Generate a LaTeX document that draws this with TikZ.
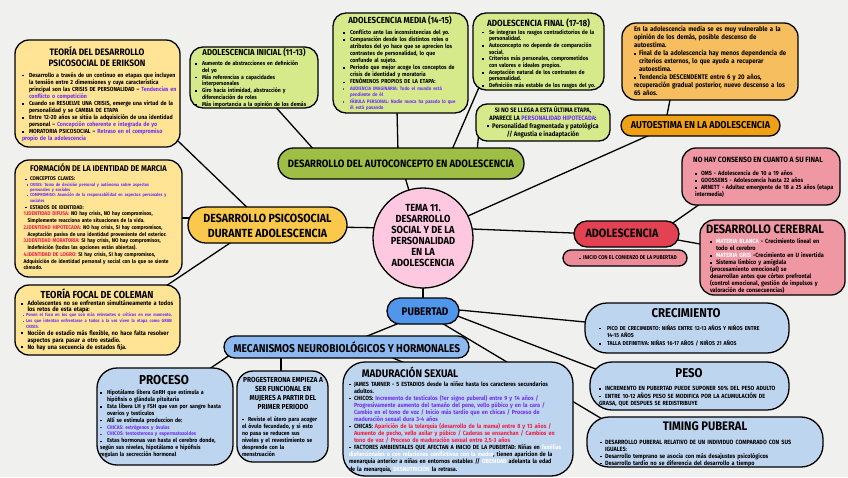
\documentclass[tikz,border=0pt]{standalone}
\usepackage{fontspec}
\setmainfont{Fira Sans}[FakeStretch=0.9]
\usetikzlibrary{calc,backgrounds}
\definecolor{cBG}{RGB}{240,240,238}
\definecolor{cLY}{RGB}{255,228,150}
\definecolor{cYO}{RGB}{250,200,75}
\definecolor{cLG}{RGB}{214,234,140}
\definecolor{cOl}{RGB}{158,190,70}
\definecolor{cOr}{RGB}{246,190,95}
\definecolor{cOrD}{RGB}{240,160,20}
\definecolor{cPk}{RGB}{255,200,225}
\definecolor{cRd}{RGB}{226,66,82}
\definecolor{cPkB}{RGB}{236,140,152}
\definecolor{cPkC}{RGB}{239,152,164}
\definecolor{cBl}{RGB}{80,150,235}
\definecolor{cBlB}{RGB}{140,186,240}
\definecolor{cLB}{RGB}{190,213,240}
\definecolor{cV}{RGB}{110,50,240}
\definecolor{cR}{RGB}{240,30,70}
\newcommand\fs[2]{\fontsize{#1}{#2}\selectfont\bfseries}
\newcommand\sq{\rule[0.2ex]{0.3em}{0.3em}}
\newcommand\itm[1][7pt]{\par\noindent\hangindent=#1\hangafter=1\makebox[#1][l]{\sq}\ignorespaces}
\newcommand\itmo[2]{\par\noindent\hangindent=\dimexpr#1+#2\relax\hangafter=1\hspace*{#1}\makebox[#2][l]{\sq}\ignorespaces}
\newcommand\itmn{\par\noindent\hangindent=4pt\hangafter=1\ignorespaces}
\newcommand\vi[1]{\textcolor{cV}{#1}}
\newcommand\rd[1]{\textcolor{cR}{#1}}
\newcommand\wt[1]{\textcolor{white}{#1}}
\begin{document}
\begin{tikzpicture}[x=1pt,y=-1pt,
  box/.style={draw=black,line width=1.3pt,rounded corners=#1,inner sep=0pt,outer sep=0pt,anchor=north west},
  box/.default=12pt,
  conn/.style={draw=black,line width=1.3pt},
  txt/.style={inner sep=0pt,outer sep=0pt,anchor=north west,align=left},
  ttl/.style={inner sep=0pt,outer sep=0pt,align=center}]
\useasboundingbox (0,0) rectangle (848,477);
\begin{scope}[on background layer]
\fill[cBG] (0,0) rectangle (848,477);
\end{scope}

% ---------- Erikson
\node[box=14pt, fill=cLY, minimum width=165pt, minimum height=107pt] (erik) at (15,40) {};
\node[ttl, font=\fs{9.3}{11}] (erikT) at (97,56.5) {TEORÍA DEL DESARROLLO\\PSICOSOCIAL DE ERIKSON};
\node[txt, text width=162pt, font=\fs{5.9}{7.05}] (erikB) at (22,70) {%
\itm Desarrollo a través de un continuo en etapas que incluyen\newline la tensión entre 2 dimensiones y cuya característica\newline principal son las CRISIS DE PERSONALIDAD -- \vi{Tendencias en}\newline \vi{conflicto o competición}
\itm Cuando se RESUELVE UNA CRISIS, emerge una virtud de la\newline personalidad y se CAMBIA DE ETAPA
\itm Entre 12-20 años se sitúa la adquisición de una identidad\newline personal -- \vi{Concepción coherente e integrada de yo}
\itm MORATORIA PSICOSOCIAL -- \vi{Retraso en el compromiso}\newline \vi{propio de la adolescencia}};

% ---------- Adolescencia inicial
\node[box=13pt, fill=cLG, minimum width=128pt, minimum height=61pt] (ini) at (190,47) {};
\node[ttl, font=\fs{8.6}{10}] (iniT) at (254,52.5) {ADOLESCENCIA INICIAL (11-13)};
\node[txt, text width=124pt, font=\fs{5.7}{6.8}] (iniB) at (195,58.6) {%
\itm Aumento de abstracciones en definición\newline del yo
\itm Más referencias a capacidades\newline interpersonales
\itm Giro hacia intimidad, abstracción y\newline diferenciación de roles
\itm Más importancia a la opinión de los demás};

% ---------- Adolescencia media
\node[box=13pt, fill=cLG, minimum width=135pt, minimum height=100pt] (med) at (333,13) {};
\node[ttl, font=\fs{8.8}{10}] (medT) at (400,20) {ADOLESCENCIA MEDIA (14-15)};
\node[txt, text width=130pt, font=\fs{5.8}{6.9}] (medB) at (343,27.8) {%
\itm Conflicto ante las inconsistencias del yo.
\itm Comparación desde los distintos roles o\newline atributos del yo hace que se aprecien los\newline contrastes de personalidad, lo que\newline confunde al sujeto.
\itm Periodo que mejor acoge los conceptos de\newline crisis de identidad y moratoria
\itm FENÓMENOS PROPIOS DE LA ETAPA:
{\fs{4.9}{6.4}\color{cV}\itm AUDIENCIA IMAGINARIA: Todo el mundo está\newline pendiente de él
\itm FÁBULA PERSONAL: Nadie nunca ha pasado lo que\newline él está pasando\par}};

% ---------- Adolescencia final
\node[box=13pt, fill=cLG, minimum width=131pt, minimum height=77pt] (fin) at (473,13) {};
\node[ttl, font=\fs{9}{10}] (finT) at (538.5,23) {ADOLESCENCIA FINAL (17-18)};
\node[txt, text width=126pt, font=\fs{5.7}{6.7}] (finB) at (482,27.3) {%
\itm Se integran los rasgos contradictorios de la\newline personalidad.
\itm Autoconcepto no depende de comparación\newline social.
\itm Criterios más personales, comprometidos\newline con valores e ideales propios.
\itm Aceptación natural de los contrastes de\newline personalidad.
\itm Definición más estable de los rasgos del yo.};

% ---------- Si no se llega
\node[box=11pt, fill=cLG, minimum width=134pt, minimum height=37pt] (sino) at (476,104) {};
\node[ttl, font=\fs{6.4}{8}] (sinoT) at (543,113) {SI NO SE LLEGA A ESTA ÚLTIMA ETAPA,\\APARECE LA \vi{PERSONALIDAD HIPOTECADA}:};
\node[ttl, font=\fs{6.6}{8}] (sinoB) at (543,130) {\sq\ \ Personalidad fragmentada y patológica\\// Angustia e inadaptación};

% ---------- Autoestima
\node[box=14pt, fill=cOr, minimum width=176pt, minimum height=77pt] (aet) at (622,23) {};
\node[txt, text width=168pt, font=\fs{6.7}{8}] (aetB) at (634,25.8) {%
\noindent En la adolescencia media se es muy vulnerable a la\newline opinión de los demás, posible descenso de\newline autoestima.
\itm[5pt]Final de la adolescencia hay menos dependencia de\newline criterios externos, lo que ayuda a recuperar\newline autoestima.
\itm[5pt]Tendencia DESCENDENTE entre 6 y 20 años,\newline recuperación gradual posterior, nuevo descenso a los\newline 65 años.};
\node[box=10.5pt, fill=cOrD, minimum width=159pt, minimum height=21pt] (ael) at (621,115) {};
\node[ttl, font=\fs{10}{12}] (aelT) at (700.5,125.5) {AUTOESTIMA EN LA ADOLESCENCIA};

% ---------- Autoconcepto
\node[box=15.5pt, fill=cOl, minimum width=246pt, minimum height=31pt] (auto) at (278,148) {};
\node[ttl, font=\fs{10.6}{12}] (autoT) at (401,163.5) {DESARROLLO DEL AUTOCONCEPTO EN ADOLESCENCIA};

% ---------- Centro
\node[circle, draw=black, line width=1.3pt, fill=cPk, minimum size=100pt, inner sep=0pt] (tema) at (423,238) {};
\node[ttl, font=\fs{10.3}{11}] (temaT) at (423,236) {TEMA 11.\\DESARROLLO\\SOCIAL Y DE LA\\PERSONALIDAD\\EN LA\\ADOLESCENCIA};

% ---------- Psicosocial
\node[box=18pt, fill=cYO, minimum width=159pt, minimum height=36pt] (psi) at (188,207) {};
\node[ttl, font=\fs{11.8}{15}] (psiT) at (267.5,225.5) {DESARROLLO PSICOSOCIAL\\DURANTE ADOLESCENCIA};

% ---------- Marcia
\node[box=14pt, fill=cLY, minimum width=167pt, minimum height=117pt] (mar) at (15,160) {};
\node[ttl, font=\fs{8.3}{10}] (marT) at (98.5,168) {FORMACIÓN DE LA IDENTIDAD DE MARCIA};
\node[txt, text width=164pt, font=\fs{5.4}{6.75}] (marB) at (23.5,175.3) {%
\itmo{1.5pt}{5pt}CONCEPTOS CLAVES:
{\fs{4.4}{5.4}\color{cV}\itmo{3pt}{3.5pt}CRISIS: Toma de decisión personal y autónoma sobre aspectos\newline personales y sociales
\itmo{3pt}{3.5pt}COMPROMISO: Asunción de la responsabilidad en aspectos personales y\newline sociales\par}
\itmo{1.5pt}{5pt}ESTADOS DE IDENTIDAD:
\itmn\rd{1.IDENTIDAD DIFUSA:} NO hay crisis, NO hay compromisos,\newline Simplemente reacciona ante situaciones de la vida.
\itmn\rd{2.IDENTIDAD HIPOTECADA:} NO hay crisis, SI hay compromisos,\newline Aceptación pasiva de una identidad proveniente del exterior.
\itmn\rd{3.IDENTIDAD MORATORIA:} SI hay crisis, NO hay compromisos,\newline Indefinición (todas las opciones están abiertas).
\itmn\rd{4.IDENTIDAD DE LOGRO:} SI hay crisis, SI hay compromisos,\newline Adquisición de identidad personal y social con la que se siente\newline cómodo.};

% ---------- Coleman
\node[box=14pt, fill=cLY, minimum width=165pt, minimum height=70pt] (col) at (15,285) {};
\node[ttl, font=\fs{10.2}{12}] (colT) at (97,294) {TEORÍA FOCAL DE COLEMAN};
\node[txt, text width=162pt, font=\fs{6.2}{7}] (colB) at (21,300) {%
\itm[6.5pt]Adolescentes no se enfrentan simultáneamente a todos\newline los retos de esta etapa:
{\fs{4.5}{5.6}\color{cV}\itmo{1.5pt}{3.5pt}Ponen el foco en los que son más relevantes o críticos en ese momento.
\itmo{1.5pt}{3.5pt}Los que intentan enfrentarse a todos a la vez viven la etapa como GRAN\newline CRISIS.\par}
\itm[6.5pt]Noción de estadio más flexible, no hace falta resolver\newline aspectos para pasar a otro estadio.
\itm[6.5pt]No hay una secuencia de estados fija.};

% ---------- Adolescencia (derecha)
\node[box=13pt, fill=cRd, minimum width=105pt, minimum height=26pt] (ado) at (574,221) {};
\node[ttl, font=\fs{12}{14}] (adoT) at (622,233.5) {ADOLESCENCIA};
\node[box=8pt, fill=cPkB, minimum width=124pt, minimum height=16pt] (inic) at (563,250) {};
\node[ttl, font=\fs{5.5}{6}] (inicT) at (628,258) {\sq\ \ INICIO CON EL COMIENZO DE LA PUBERTAD};
\node[box=14pt, fill=cPkC, minimum width=158pt, minimum height=57pt] (con) at (682,148) {};
\node[ttl, font=\fs{7.6}{9}] (conT) at (758,160) {NO HAY CONSENSO EN CUANTO A SU FINAL};
\node[txt, text width=145pt, font=\fs{6}{7.2}] (conB) at (695,168) {%
\itm[6pt]OMS - Adolescencia de 10 a 19 años
\itm[6pt]GOOSSENS - Adolescencia hasta 22 años
\itm[6pt]ARNETT - Adultez emergente de 18 a 25 años (etapa\newline intermedia)};
\node[box=14pt, fill=cPkC, minimum width=145pt, minimum height=75pt] (cer) at (700,220) {};
\node[ttl, font=\fs{12.2}{14}] (cerT) at (765,229.5) {DESARROLLO CEREBRAL};
\node[txt, text width=132pt, font=\fs{6.1}{7}] (cerB) at (710,236.8) {%
\itm[6pt]\wt{MATERIA BLANCA} - Crecimiento lineal en\newline todo el cerebro
\itm[6pt]\wt{MATERIA GRIS} -Crecimiento en U invertida
\itm[6pt]Sistema límbico y amígdala\newline (procesamiento emocional) se\newline desarrollan antes que córtex prefrontal\newline (control emocional, gestión de impulsos y\newline valoración de consecuencias)};

% ---------- Pubertad
\node[box=13pt, fill=cBl, minimum width=72pt, minimum height=26pt] (pub) at (387,298) {};
\node[ttl, font=\fs{11}{13}] (pubT) at (425,311.5) {PUBERTAD};
\node[box=11pt, fill=cBlB, minimum width=245pt, minimum height=22pt] (mec) at (224,336) {};
\node[ttl, font=\fs{11.3}{13}] (mecT) at (347,347) {MECANISMOS NEUROBIOLÓGICOS Y HORMONALES};

\node[box=22pt, fill=cLB, minimum width=204pt, minimum height=50pt] (cre) at (585,303) {};
\node[ttl, font=\fs{12.7}{14}] (creT) at (686,313) {CRECIMIENTO};
\node[txt, text width=190pt, font=\fs{5.7}{7.8}] (creB) at (599,322.2) {%
\itm[8pt]PICO DE CRECIMIENTO: NIÑAS ENTRE 12-13 AÑOS Y NIÑOS ENTRE\newline 14-15 AÑOS
\itm[8pt]TALLA DEFINITIVA: NIÑAS 16-17 AÑOS / NIÑOS 21 AÑOS};

\node[box=22pt, fill=cLB, minimum width=199pt, minimum height=48pt] (pes) at (590,362) {};
\node[ttl, font=\fs{12.7}{14}] (pesT) at (689,373) {PESO};
\node[txt, text width=190pt, font=\fs{6}{7.5}] (pesB) at (599,383) {%
\itm[6pt]INCREMENTO EN PUBERTAD PUEDE SUPONER 50\% DEL PESO ADULTO
\itm[6pt]ENTRE 10-12 AÑOS PESO SE MODIFICA POR LA ACUMULACIÓN DE\newline GRASA, QUE DESPUES SE REDISTRIBUYE};

\node[box=22pt, fill=cLB, minimum width=236pt, minimum height=50pt] (tim) at (587,417) {};
\node[ttl, font=\fs{12.4}{14}] (timT) at (705,426.5) {TIMING PUBERAL};
\node[txt, text width=228pt, font=\fs{6.1}{7}] (timB) at (600,437) {%
\itm[5pt]DESARROLLO PUBERAL RELATIVO DE UN INDIVIDUO COMPARADO CON SUS\newline IGUALES:
\itm[5pt]Desarrollo temprano se asocia con más desajustes psicológicos
\itm[5pt]Desarrollo tardío no se diferencia del desarrollo a tiempo};

\node[box=22pt, fill=cLB, minimum width=230pt, minimum height=114pt] (mad) at (343,362) {};
\node[ttl, font=\fs{11}{13}] (madT) at (410,372.5) {MADURACIÓN SEXUAL};
\node[txt, text width=224pt, font=\fs{6}{7}] (madB) at (349,379) {%
\itm[5pt]JAMES TANNER - 5 ESTADIOS desde la niñez hasta los caracteres secundarios\newline adultos.
\itm[5pt]CHICOS: \vi{Incremento de testículos (1er signo puberal) entre 9 y 14 años /}\newline \vi{Progresivamente aumento del tamaño del pene, vello púbico y en la cara /}\newline \vi{Cambio en el tono de voz / Inicio más tardío que en chicas / Proceso de}\newline \vi{maduración sexual dura 3-4 años}
\itm[5pt]CHICAS: \rd{Aparición de la telarquia (desarrollo de la mama) entre 8 y 13 años /}\newline \rd{Aumento de pecho, vello axilar y púbico / Caderas se ensanchan / Cambios en}\newline \rd{tono de voz / Proceso de maduración sexual entre 2,5-3 años}
\itm[5pt]FACTORES AMBIENTALES QUE AFECTAN A INICIO DE LA PUBERTAD: Niñas en \wt{familias}\newline \wt{disfuncionales o con relaciones conflictivas con la madre}, tienen aparicion de la\newline menarquia anterior a niñas en entornos estables // \wt{OBESIDAD} adelanta la edad\newline de la menarquia, \wt{DESNUTRICIÓN} la retrasa.};

\node[box=20pt, fill=cLB, minimum width=136pt, minimum height=97pt] (pro) at (97,368) {};
\node[ttl, font=\fs{13}{15}] (proT) at (164,380) {PROCESO};
\node[txt, text width=132pt, font=\fs{5.8}{7}] (proB) at (100,387.2) {%
\itm Hipotálamo libera GnRH que estimula a\newline hipófisis o glándula pituitaria
\itm Esta libera LH y FSH que van por sangre hasta\newline ovarios y testículos
\itm Allí se estimula produccion de:
{\fs{5.2}{6.9}\color{cV}\itm CHICAS: estrógenos y óvulos
\itm CHICOS: testosterona y espermatozoides\par}
\itm Estas hormonas van hasta el cerebro donde,\newline según sus niveles, hipotálamo e hipófisis\newline regulan la secrección hormonal};

\node[box=16pt, fill=cLB, minimum width=91pt, minimum height=91pt] (prg) at (237,371) {};
\node[ttl, font=\fs{7.3}{9}] (prgT) at (283,393.5) {PROGESTERONA EMPIEZA A\\SER FUNCIONAL EN\\MUJERES A PARTIR DEL\\PRIMER PERIODO};
\node[txt, text width=86pt, font=\fs{5.8}{7.1}] (prgB) at (242,414) {%
\itm[6pt]Reviste el útero para acoger\newline el óvulo fecundado, y si esto\newline no pasa se reducen sus\newline niveles y el revestimiento se\newline desprende con la\newline menstruación};

% ---------- Conectores
\begin{scope}[on background layer]
\draw[conn] (tema.center) -- (auto.center);
\draw[conn] ($(auto.center)+(-85,-11.5)$) -- ($(ini.center)+(18,25.5)$);
\draw[conn] ($(auto.center)+(-3,-11.5)$) -- ($(med.center)+(-3.5,47)$);
\draw[conn] ($(auto.center)+(50,-11.5)$) -- ($(fin.center)+(-58.5,33.5)$);
\draw[conn] ($(auto.center)+(76,-11.5)$) -- ($(sino.center)+(-64,7.5)$);
\draw[conn] ($(tema.center)+(-33,-10)$) -- ($(psi.center)+(62.5,2)$);
\draw[conn] ($(psi.center)+(-12.5,-10)$) -- ($(erik.center)+(67.5,35)$);
\draw[conn] ($(psi.center)+(-67.5,-7)$) -- ($(mar.center)+(71.5,-0.5)$);
\draw[conn] ($(psi.center)+(-27.5,11.3)$) -- ($(col.center)+(62.5,-30)$);
\draw[conn] ($(tema.center)+(17,-9.6)$) -- ($(ael.center)+(-40.5,4.9)$);
\draw[conn] ($(ael.center)+(-35.5,-0.5)$) -- ($(aet.center)+(-38,28.5)$);
\draw[conn] ($(tema.center)+(27,-9.9)$) -- ($(ado.center)+(-26.5,0.1)$);
\draw[conn] ($(ado.center)+(28.5,1.5)$) -- ($(con.center)+(-51,20.5)$);
\draw[conn] ($(ado.center)+(23.5,1)$) -- ($(cer.center)+(-52.5,-9.9)$);
\draw[conn] (tema.center) -- (pub.center);
\draw[conn] ($(pub.center)+(17,-2.8)$) -- ($(cre.center)+(-87,-4.6)$);
\draw[conn] ($(pub.center)+(17,-1.7)$) -- ($(pes.center)+(-79.5,-11.5)$);
\draw[conn] ($(pub.center)+(7,5)$) -- ($(tim.center)+(-85,-12.3)$);
\draw[conn] ($(pub.center)+(-13,7.7)$) -- ($(mec.center)+(3.5,-4)$);
\draw[conn] ($(mec.center)+(-101.5,-2.2)$) -- ($(pro.center)+(25,-34.5)$);
\draw[conn] ($(mec.center)+(-65.5,-2)$) -- ($(prg.center)+(-1.5,-31.5)$);
\draw[conn] ($(mec.center)+(33.5,5.5)$) -- ($(mad.center)+(-43,-51.7)$);
\end{scope}
\end{tikzpicture}
\end{document}
